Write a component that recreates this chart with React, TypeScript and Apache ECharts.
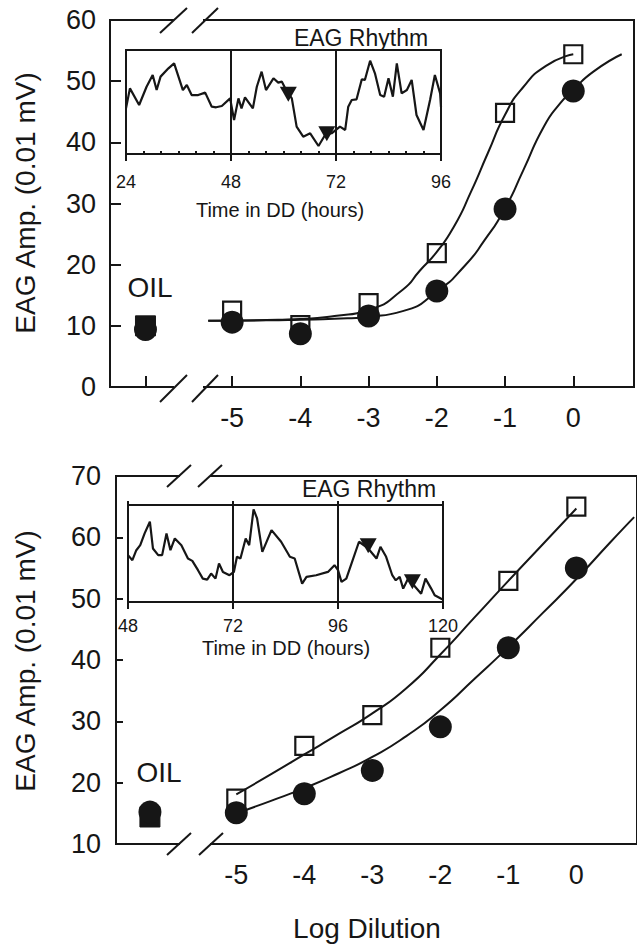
import React, { useEffect, useRef } from "react";
import * as echarts from "echarts";

const INK = "#161616";
const FONT = "Liberation Sans, Arial, Helvetica, sans-serif";

const dilutionTicks = [-5, -4, -3, -2, -1, 0];
const OIL_X = -6.27;

// ---------- Top panel ----------
const topSquares = [[-5, 12.5], [-4, 10.1], [-3, 13.7], [-2, 21.9], [-1, 44.8], [0, 54.4]];
const topCircles = [[-5, 10.6], [-4, 8.7], [-3, 11.6], [-2, 15.7], [-1, 29.1], [0, 48.4]];
const topOilSquare = [[OIL_X, 10.0]];
const topOilCircle = [[OIL_X, 9.4]];
const topSquareFit = [
  [-5.35, 10.85], [-4.5, 10.95], [-4, 11.1], [-3.5, 11.6], [-3, 12.6], [-2.5, 15.9],
  [-2.25, 19.0], [-2, 22.1], [-1.75, 26.2], [-1.5, 31.9], [-1.25, 38.3], [-1, 44.5],
  [-0.75, 48.8], [-0.4, 52.5], [0, 54.4],
];
const topCircleFit = [
  [-5.35, 10.85], [-4.5, 10.9], [-4, 11.0], [-3.5, 11.15], [-3, 11.5], [-2.5, 12.4],
  [-2, 15.6], [-1.6, 19.7], [-1.3, 24.0], [-1, 29.2], [-0.73, 35.5], [-0.43, 42.6],
  [-0.19, 46.4], [0, 48.6], [0.3, 51.6], [0.71, 54.4],
];
const topYTicks = [0, 10, 20, 30, 40, 50, 60];

// top inset rhythm (hours in DD, relative amplitude %)
const topRhythm = [
  [24.0, 43.9], [24.9, 63.1], [27.0, 47.1], [28.7, 64.7], [30.1, 76.0], [31.0, 61.5],
  [31.9, 74.4], [33.7, 82.4], [35.0, 87.2], [37.0, 61.5], [37.9, 66.3], [39.0, 56.7],
  [40.5, 56.7], [42.1, 59.0], [43.6, 45.5], [44.6, 44.9], [45.9, 46.2], [47.8, 53.5],
  [48.7, 32.7], [49.7, 53.5], [50.4, 43.9], [51.2, 54.5], [53.0, 43.9], [53.9, 64.7],
  [55.0, 79.2], [56.0, 61.5], [57.7, 72.8], [58.8, 68.6], [59.6, 69.6], [60.6, 61.5],
  [61.9, 53.5], [63.0, 26.3], [64.5, 16.7], [66.1, 19.9], [68.0, 7.7], [69.5, 18.3],
  [71.0, 19.9], [72.9, 26.3], [74.1, 23.1], [74.8, 45.5], [75.6, 51.9], [76.7, 52.6],
  [77.9, 71.8], [78.6, 71.2], [79.8, 89.7], [80.9, 77.6], [82.1, 56.7], [83.0, 55.1],
  [84.0, 72.8], [85.0, 55.1], [85.9, 87.2], [87.0, 58.3], [88.2, 61.5], [89.3, 71.2],
  [90.4, 37.5], [92.0, 23.1], [93.5, 51.9], [94.6, 76.0], [95.8, 58.3], [96.0, 45.0],
];
const topRhythmMarks = [[61.1, 57.5], [69.9, 19.5]];
const topInsetTicks = [24, 48, 72, 96];
const topInsetMinor = [28, 32, 36, 40, 44, 52, 56, 60, 64, 68, 76, 80, 84, 88, 92];

// ---------- Bottom panel ----------
const botSquares = [[-5, 17.4], [-4, 26.0], [-3, 31.0], [-2, 42.0], [-1, 52.9], [0, 65.0]];
const botCircles = [[-5, 15.1], [-4, 18.2], [-3, 22.0], [-2, 29.1], [-1, 42.0], [0, 55.0]];
const botOilSquare = [[OIL_X, 14.4]];
const botOilCircle = [[OIL_X, 15.2]];
const botSquareFit = [
  [-5, 18.1], [-4.5, 21.3], [-4, 24.6], [-3.5, 27.9], [-3, 31.3], [-2.5, 35.4],
  [-2, 40.9], [-1.5, 46.9], [-1, 52.9], [-0.5, 58.8], [0, 64.7],
];
const botCircleFit = [
  [-5, 15.0], [-4.5, 17.0], [-4, 19.1], [-3.5, 21.5], [-3, 24.2], [-2.5, 27.6],
  [-2, 31.8], [-1.5, 36.9], [-1, 42.1], [-0.5, 47.6], [0, 53.2], [0.5, 59.2], [0.85, 63.3],
];

const botRhythm = [
  [48.0, 48.3], [49.0, 43.1], [49.9, 53.4], [50.8, 58.6], [51.8, 70.7], [53.0, 82.8],
  [53.7, 55.2], [54.9, 48.3], [55.8, 48.3], [56.8, 70.7], [57.7, 53.4], [58.7, 65.5],
  [60.2, 58.6], [61.7, 44.8], [62.7, 42.4], [64.0, 32.8], [65.1, 24.1], [66.1, 23.1],
  [67.0, 29.3], [68.0, 24.1], [68.8, 39.7], [69.7, 31.0], [71.2, 27.6], [72.2, 31.0],
  [72.9, 46.6], [73.7, 44.8], [74.9, 65.5], [75.7, 58.6], [76.7, 95.5], [77.5, 86.2],
  [78.7, 51.7], [80.8, 74.1], [83.0, 62.1], [85.0, 46.6], [86.1, 44.8], [87.8, 19.0],
  [88.8, 25.9], [91.0, 27.6], [93.7, 31.0], [95.2, 37.9], [96.0, 32.8], [96.8, 20.7],
  [97.9, 24.1], [100.8, 62.1], [102.9, 55.2], [104.8, 44.8], [105.7, 56.9], [107.0, 46.6],
  [108.4, 27.6], [109.2, 22.4], [110.1, 25.9], [110.9, 13.8], [112.0, 24.0], [113.0, 19.0],
  [115.0, 8.6], [116.0, 24.1], [117.3, 13.8], [118.1, 6.9], [119.6, 3.4], [120.0, 2.5],
];
const botRhythmMarks = [[102.9, 58.0], [113.0, 21.0]];
const botInsetTicks = [48, 72, 96, 120];
const botYTicks = [10, 20, 30, 40, 50, 60, 70];

export default function App() {
  const ref = useRef<HTMLDivElement>(null);

  useEffect(() => {
    document.body.style.margin = "0";
    if (!ref.current) return;
    const chart = echarts.init(ref.current, undefined, { renderer: "svg" });

    const lineW = 2;
    const fitSeries = (data: number[][], xi: number, yi: number) => ({
      type: "line",
      xAxisIndex: xi,
      yAxisIndex: yi,
      data,
      smooth: 0.6,
      showSymbol: false,
      symbol: "none",
      lineStyle: { color: INK, width: lineW, opacity: 1 },
      z: 2,
      silent: true,
    });
    const squareSeries = (data: number[][], xi: number, yi: number, filled = false, size = 18) => ({
      type: "scatter",
      xAxisIndex: xi,
      yAxisIndex: yi,
      data,
      symbol: "rect",
      symbolSize: size,
      itemStyle: filled
        ? { color: INK, borderColor: INK, borderWidth: 1, opacity: 1 }
        : { color: "rgba(0,0,0,0)", borderColor: INK, borderWidth: 2.2, opacity: 1 },
      z: 3,
    });
    const circleSeries = (data: number[][], xi: number, yi: number) => ({
      type: "scatter",
      xAxisIndex: xi,
      yAxisIndex: yi,
      data,
      symbol: "circle",
      symbolSize: 23,
      itemStyle: { color: INK, opacity: 1 },
      z: 4,
    });
    const rhythmSeries = (data: number[][], xi: number, yi: number) => ({
      type: "line",
      xAxisIndex: xi,
      yAxisIndex: yi,
      data,
      showSymbol: false,
      symbol: "none",
      lineStyle: { color: INK, width: 2.2, opacity: 1 },
      z: 5,
      silent: true,
    });
    const markSeries = (data: number[][], xi: number, yi: number) => ({
      type: "scatter",
      xAxisIndex: xi,
      yAxisIndex: yi,
      data,
      symbol: "triangle",
      symbolRotate: 180,
      symbolSize: [17, 15],
      itemStyle: { color: INK, opacity: 1 },
      z: 6,
    });

    const mainLabel = { color: INK, fontSize: 27, fontFamily: FONT };
    const axisLine = { show: true, onZero: false, lineStyle: { color: INK, width: 2 } };

    const text = (t: string, x: number, y: number, size: number, rotation = 0) => ({
      type: "text",
      x,
      y,
      rotation,
      z: 100,
      style: {
        text: t,
        fontSize: size,
        fontFamily: FONT,
        fill: INK,
        textAlign: "center",
        textVerticalAlign: "middle",
        align: "center",
        verticalAlign: "middle",
      },
    });
    const slash = (x1: number, y1: number, x2: number, y2: number) => ({
      type: "line",
      z: 101,
      shape: { x1, y1, x2, y2 },
      style: { stroke: INK, lineWidth: 2 },
    });
    const gap = (x: number, y: number, w: number) => ({
      type: "rect",
      z: 100,
      shape: { x, y: y - 3.5, width: w, height: 7 },
      style: { fill: "#ffffff" },
    });

    chart.setOption({
      animation: false,
      backgroundColor: "#ffffff",
      grid: [
        { left: 110, top: 20, width: 524, height: 367, show: true, borderColor: INK, borderWidth: 2, backgroundColor: "transparent" },
        { left: 126, top: 50, width: 315, height: 104, show: true, borderColor: INK, borderWidth: 2, backgroundColor: "transparent" },
        { left: 116, top: 476, width: 524, height: 368, show: true, borderColor: INK, borderWidth: 2, backgroundColor: "transparent" },
        { left: 128, top: 505, width: 315, height: 97, show: true, borderColor: INK, borderWidth: 2, backgroundColor: "transparent" },
      ],
      xAxis: [
        {
          gridIndex: 0, type: "value", min: -6.79, max: 0.89, position: "bottom",
          axisLine,
          axisTick: { show: true, inside: true, length: 11, customValues: [OIL_X, ...dilutionTicks], lineStyle: { color: INK, width: 2 } },
          axisLabel: { ...mainLabel, margin: 17, customValues: dilutionTicks },
          splitLine: { show: false },
        },
        {
          gridIndex: 1, type: "value", min: 24, max: 96, interval: 24, position: "bottom",
          axisLine,
          axisTick: { show: true, inside: false, length: 7, lineStyle: { color: INK, width: 2 }, customValues: topInsetTicks },
          axisLabel: { color: INK, fontSize: 18, fontFamily: FONT, margin: 19, customValues: topInsetTicks },
          splitLine: { show: true, lineStyle: { color: INK, width: 2 } },
        },
        {
          gridIndex: 1, type: "value", min: 24, max: 96, position: "bottom", offset: 0,
          axisLine: { show: false, onZero: false },
          axisTick: { show: true, inside: true, length: 3, lineStyle: { color: INK, width: 2 }, customValues: topInsetMinor },
          axisLabel: { show: false },
          splitLine: { show: false },
        },
        {
          gridIndex: 2, type: "value", min: -6.769, max: 0.892, position: "bottom",
          axisLine,
          axisTick: { show: false },
          axisLabel: { ...mainLabel, margin: 17, customValues: dilutionTicks },
          splitLine: { show: false },
        },
        {
          gridIndex: 3, type: "value", min: 48, max: 120, interval: 24, position: "bottom",
          axisLine,
          axisTick: { show: true, inside: false, length: 7, lineStyle: { color: INK, width: 2 }, customValues: botInsetTicks },
          axisLabel: { color: INK, fontSize: 18, fontFamily: FONT, margin: 15, customValues: botInsetTicks },
          splitLine: { show: true, lineStyle: { color: INK, width: 2 } },
        },
        {
          gridIndex: 3, type: "value", min: 48, max: 120, interval: 24, position: "top",
          axisLine: { show: false, onZero: false },
          axisTick: { show: true, inside: false, length: 4, lineStyle: { color: INK, width: 2 }, customValues: botInsetTicks },
          axisLabel: { show: false },
          splitLine: { show: false },
        },
      ],
      yAxis: [
        {
          gridIndex: 0, type: "value", min: 0, max: 60, interval: 10, position: "left",
          axisLine,
          axisTick: { show: true, inside: true, length: 11, lineStyle: { color: INK, width: 2 }, customValues: topYTicks },
          axisLabel: { ...mainLabel, margin: 14, customValues: topYTicks },
          splitLine: { show: false },
        },
        { gridIndex: 1, type: "value", min: 0, max: 100, show: false },
        {
          gridIndex: 2, type: "value", min: 10, max: 70, interval: 10, position: "left",
          axisLine,
          axisTick: { show: true, inside: true, length: 7, lineStyle: { color: INK, width: 2 }, customValues: botYTicks },
          axisLabel: { ...mainLabel, margin: 15, customValues: botYTicks },
          splitLine: { show: false },
        },
        { gridIndex: 3, type: "value", min: 0, max: 100, show: false },
      ],
      series: [
        fitSeries(topSquareFit, 0, 0),
        fitSeries(topCircleFit, 0, 0),
        squareSeries(topSquares, 0, 0),
        squareSeries(topOilSquare, 0, 0, true, 20),
        circleSeries(topCircles, 0, 0),
        circleSeries(topOilCircle, 0, 0),
        rhythmSeries(topRhythm, 1, 1),
        markSeries(topRhythmMarks, 1, 1),

        fitSeries(botSquareFit, 3, 2),
        fitSeries(botCircleFit, 3, 2),
        squareSeries(botSquares, 3, 2),
        squareSeries(botOilSquare, 3, 2, true, 20),
        circleSeries(botCircles, 3, 2),
        circleSeries(botOilCircle, 3, 2),
        rhythmSeries(botRhythm, 4, 3),
        markSeries(botRhythmMarks, 4, 3),
      ],
      graphic: [
        // axis breaks, top panel
        gap(174, 387, 29), gap(174, 20, 29),
        slash(160, 402, 187, 375), slash(192, 402, 218, 375),
        slash(160, 33, 187, 8), slash(192, 33, 218, 8),
        // axis breaks, bottom panel
        gap(180, 844, 30), gap(180, 476, 30),
        slash(167, 855, 191, 833), slash(199, 855, 223, 833),
        slash(167, 487, 191, 465), slash(198, 487, 222, 465),
        // texts
        text("EAG Amp. (0.01 mV)", 25, 203, 28, Math.PI / 2),
        text("EAG Amp. (0.01 mV)", 25, 661, 28, Math.PI / 2),
        text("EAG Rhythm", 361, 38, 23),
        text("EAG Rhythm", 369, 489, 23),
        text("Time in DD (hours)", 280, 210, 20),
        text("Time in DD (hours)", 286, 648, 20),
        text("OIL", 150, 287, 28),
        text("OIL", 159, 772, 28),
        text("Log Dilution", 367, 928, 28),
      ],
    });

    return () => chart.dispose();
  }, []);

  return <div ref={ref} style={{ width: 637, height: 946 }} />;
}
